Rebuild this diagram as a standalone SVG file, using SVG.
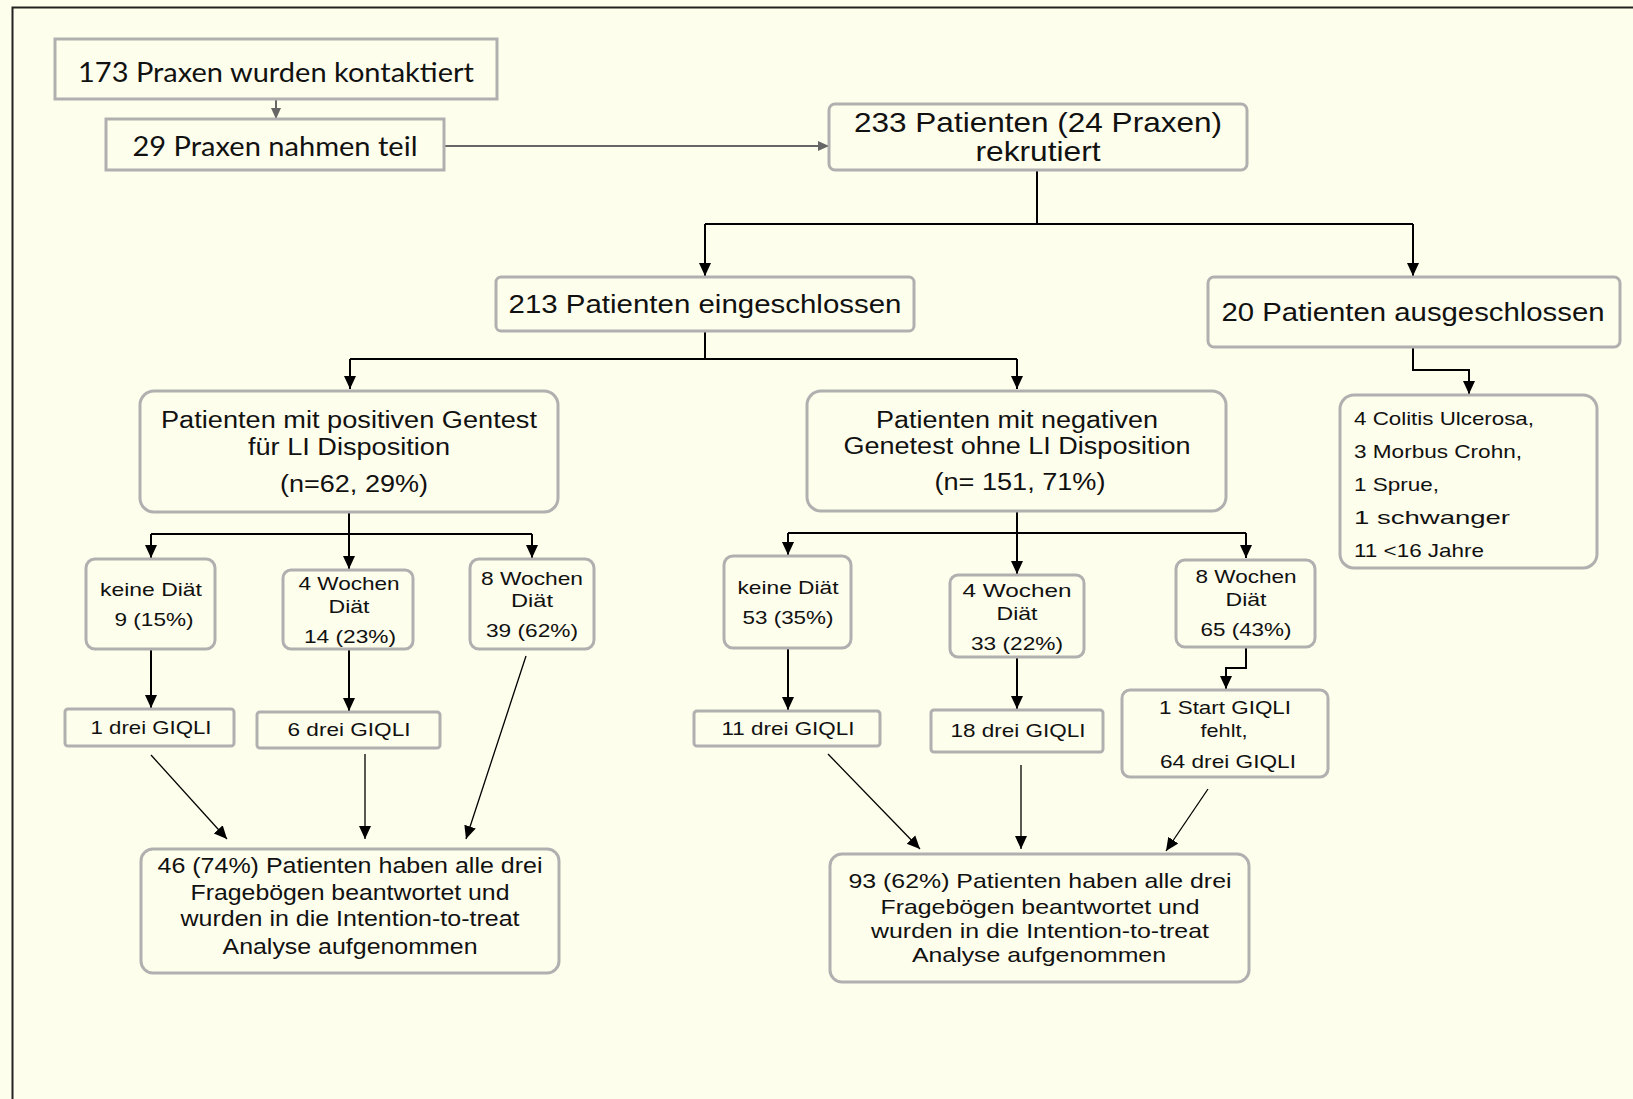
<svg xmlns="http://www.w3.org/2000/svg" width="1633" height="1099" viewBox="0 0 1633 1099">
<defs>
<style>
.bx{fill:#fefeec;stroke:#b0b0b0;stroke-width:3}
.t{font-family:"Liberation Sans",Arial,sans-serif;fill:#111;text-anchor:middle}
.c{font-family:Lato,"Liberation Sans",sans-serif;fill:#111;text-anchor:middle;font-size:26px}
.l{font-family:"Liberation Sans",Arial,sans-serif;fill:#111;font-size:19px}
.k{fill:none;stroke:#000;stroke-width:2}
.d{fill:none;stroke:#000;stroke-width:1.3}
.g{fill:none;stroke:#666;stroke-width:2}
</style>
<marker id="ah" markerUnits="userSpaceOnUse" markerWidth="14" markerHeight="14" viewBox="0 0 14 14" refX="13" refY="7" orient="auto"><path d="M0,1 L13,7 L0,13 Z" fill="#000"/></marker>
<marker id="ag" markerUnits="userSpaceOnUse" markerWidth="12" markerHeight="12" viewBox="0 0 12 12" refX="11" refY="6" orient="auto"><path d="M0,1 L11,6 L0,11 Z" fill="#666"/></marker>
</defs>
<rect width="1633" height="1099" fill="#fefeec"/>
<path d="M12.5,1099 V7.5 H1633" fill="none" stroke="#222" stroke-width="2"/>

<g id="connectors">
<path class="g" d="M276,99 V119" marker-end="url(#ag)"/>
<path class="g" d="M444,146 H829" marker-end="url(#ag)"/>
<path class="k" d="M1037,170 V224"/>
<path class="k" d="M705,224 H1413"/>
<path class="k" d="M705,224 V276" marker-end="url(#ah)"/>
<path class="k" d="M1413,224 V276" marker-end="url(#ah)"/>
<path class="k" d="M1413,347 V370 H1469 V394" marker-end="url(#ah)"/>
<path class="k" d="M705,331 V359"/>
<path class="k" d="M350,359 H1017"/>
<path class="k" d="M1017,359 V389" marker-end="url(#ah)"/>
<path class="k" d="M350,359 V389" marker-end="url(#ah)"/>
<path class="k" d="M349,512 V534"/>
<path class="k" d="M151,534 H532"/>
<path class="k" d="M151,534 V558" marker-end="url(#ah)"/>
<path class="k" d="M349,534 V569" marker-end="url(#ah)"/>
<path class="k" d="M532,534 V558" marker-end="url(#ah)"/>
<path class="k" d="M151,649 V708" marker-end="url(#ah)"/>
<path class="k" d="M349,649 V711" marker-end="url(#ah)"/>
<path class="d" d="M151,755 L227,839" marker-end="url(#ah)"/>
<path class="d" d="M365,754 V839" marker-end="url(#ah)"/>
<path class="d" d="M526,656 L466,839" marker-end="url(#ah)"/>
<path class="k" d="M1017,511 V533"/>
<path class="k" d="M788,533 H1246"/>
<path class="k" d="M788,533 V555" marker-end="url(#ah)"/>
<path class="k" d="M1017,533 V574" marker-end="url(#ah)"/>
<path class="k" d="M1246,533 V558" marker-end="url(#ah)"/>
<path class="k" d="M788,648 V710" marker-end="url(#ah)"/>
<path class="k" d="M1017,657 V709" marker-end="url(#ah)"/>
<path class="k" d="M1246,647 V668 H1226 V689" marker-end="url(#ah)"/>
<path class="d" d="M828,754 L920,849" marker-end="url(#ah)"/>
<path class="d" d="M1021,765 V849" marker-end="url(#ah)"/>
<path class="d" d="M1208,789 L1166,851" marker-end="url(#ah)"/>
</g>

<g id="n1"><rect class="bx" x="55" y="39" width="442" height="60"/>
<text class="c" x="276" y="82" textLength="396" lengthAdjust="spacingAndGlyphs">173 Praxen wurden kontaktiert</text></g>
<g id="n2"><rect class="bx" x="106" y="119" width="338" height="51"/>
<text class="c" x="275" y="156" textLength="285" lengthAdjust="spacingAndGlyphs">29 Praxen nahmen teil</text></g>
<g id="n3"><rect class="bx" x="829" y="104" width="418" height="66" rx="6"/>
<text class="t" font-size="28" x="1038" y="132" textLength="368" lengthAdjust="spacingAndGlyphs">233 Patienten (24 Praxen)</text>
<text class="t" font-size="28" x="1038" y="161" textLength="125" lengthAdjust="spacingAndGlyphs">rekrutiert</text></g>
<g id="n4"><rect class="bx" x="496" y="277" width="418" height="54" rx="5"/>
<text class="t" font-size="25" x="705" y="313" textLength="393" lengthAdjust="spacingAndGlyphs">213 Patienten eingeschlossen</text></g>
<g id="n5"><rect class="bx" x="1208" y="277" width="412" height="70" rx="6"/>
<text class="t" font-size="25" x="1413" y="321" textLength="383" lengthAdjust="spacingAndGlyphs">20 Patienten ausgeschlossen</text></g>
<g id="n6"><rect class="bx" x="1340" y="395" width="257" height="173" rx="14"/>
<text class="l" x="1354" y="425" textLength="180" lengthAdjust="spacingAndGlyphs">4 Colitis Ulcerosa,</text>
<text class="l" x="1354" y="458" textLength="168" lengthAdjust="spacingAndGlyphs">3 Morbus Crohn,</text>
<text class="l" x="1354" y="491" textLength="85" lengthAdjust="spacingAndGlyphs">1 Sprue,</text>
<text class="l" x="1354" y="524" textLength="156" lengthAdjust="spacingAndGlyphs">1 schwanger</text>
<text class="l" x="1354" y="557" textLength="130" lengthAdjust="spacingAndGlyphs">11 &lt;16 Jahre</text></g>
<g id="n7"><rect class="bx" x="140" y="391" width="418" height="121" rx="14"/>
<text class="t" font-size="23" x="349" y="428" textLength="376" lengthAdjust="spacingAndGlyphs">Patienten mit positiven Gentest</text>
<text class="t" font-size="23" x="349" y="455" textLength="202" lengthAdjust="spacingAndGlyphs">für LI Disposition</text>
<text class="t" font-size="23" x="354" y="492" textLength="148" lengthAdjust="spacingAndGlyphs">(n=62, 29%)</text></g>
<g id="n8"><rect class="bx" x="807" y="391" width="419" height="120" rx="14"/>
<text class="t" font-size="23" x="1017" y="428" textLength="282" lengthAdjust="spacingAndGlyphs">Patienten mit negativen</text>
<text class="t" font-size="23" x="1017" y="454" textLength="347" lengthAdjust="spacingAndGlyphs">Genetest ohne LI Disposition</text>
<text class="t" font-size="23" x="1020" y="490" textLength="171" lengthAdjust="spacingAndGlyphs">(n= 151, 71%)</text></g>
<g id="n9"><rect class="bx" x="86" y="559" width="129" height="90" rx="9"/>
<text class="t" font-size="19" x="151" y="596" textLength="102" lengthAdjust="spacingAndGlyphs">keine Diät</text>
<text class="t" font-size="19" x="154" y="626" textLength="79" lengthAdjust="spacingAndGlyphs">9 (15%)</text></g>
<g id="n10"><rect class="bx" x="283" y="570" width="130" height="79" rx="8"/>
<text class="t" font-size="19" x="349" y="590" textLength="101" lengthAdjust="spacingAndGlyphs">4 Wochen</text>
<text class="t" font-size="19" x="349" y="613" textLength="41" lengthAdjust="spacingAndGlyphs">Diät</text>
<text class="t" font-size="19" x="350" y="643" textLength="92" lengthAdjust="spacingAndGlyphs">14 (23%)</text></g>
<g id="n11"><rect class="bx" x="470" y="559" width="124" height="90" rx="9"/>
<text class="t" font-size="19" x="532" y="585" textLength="102" lengthAdjust="spacingAndGlyphs">8 Wochen</text>
<text class="t" font-size="19" x="532" y="607" textLength="42" lengthAdjust="spacingAndGlyphs">Diät</text>
<text class="t" font-size="19" x="532" y="637" textLength="92" lengthAdjust="spacingAndGlyphs">39 (62%)</text></g>
<g id="n12"><rect class="bx" x="65" y="709" width="169" height="37" rx="3"/>
<text class="t" font-size="19" x="151" y="734" textLength="121" lengthAdjust="spacingAndGlyphs">1 drei GIQLI</text></g>
<g id="n13"><rect class="bx" x="257" y="712" width="183" height="36" rx="3"/>
<text class="t" font-size="19" x="349" y="736" textLength="123" lengthAdjust="spacingAndGlyphs">6 drei GIQLI</text></g>
<g id="n14"><rect class="bx" x="141" y="849" width="418" height="124" rx="12"/>
<text class="t" font-size="22" x="350" y="873" textLength="385" lengthAdjust="spacingAndGlyphs">46 (74%) Patienten haben alle drei</text>
<text class="t" font-size="22" x="350" y="900" textLength="319" lengthAdjust="spacingAndGlyphs">Fragebögen beantwortet und</text>
<text class="t" font-size="22" x="350" y="926" textLength="339" lengthAdjust="spacingAndGlyphs">wurden in die Intention-to-treat</text>
<text class="t" font-size="22" x="350" y="954" textLength="255" lengthAdjust="spacingAndGlyphs">Analyse aufgenommen</text></g>
<g id="n15"><rect class="bx" x="724" y="556" width="127" height="92" rx="9"/>
<text class="t" font-size="19" x="788" y="594" textLength="101" lengthAdjust="spacingAndGlyphs">keine Diät</text>
<text class="t" font-size="19" x="788" y="624" textLength="91" lengthAdjust="spacingAndGlyphs">53 (35%)</text></g>
<g id="n16"><rect class="bx" x="950" y="575" width="134" height="82" rx="8"/>
<text class="t" font-size="19" x="1017" y="597" textLength="109" lengthAdjust="spacingAndGlyphs">4  Wochen</text>
<text class="t" font-size="19" x="1017" y="620" textLength="41" lengthAdjust="spacingAndGlyphs">Diät</text>
<text class="t" font-size="19" x="1017" y="650" textLength="92" lengthAdjust="spacingAndGlyphs">33 (22%)</text></g>
<g id="n17"><rect class="bx" x="1176" y="560" width="139" height="87" rx="9"/>
<text class="t" font-size="19" x="1246" y="583" textLength="101" lengthAdjust="spacingAndGlyphs">8 Wochen</text>
<text class="t" font-size="19" x="1246" y="606" textLength="41" lengthAdjust="spacingAndGlyphs">Diät</text>
<text class="t" font-size="19" x="1246" y="636" textLength="91" lengthAdjust="spacingAndGlyphs">65 (43%)</text></g>
<g id="n18"><rect class="bx" x="694" y="711" width="186" height="35" rx="3"/>
<text class="t" font-size="19" x="788" y="735" textLength="133" lengthAdjust="spacingAndGlyphs">11 drei GIQLI</text></g>
<g id="n19"><rect class="bx" x="931" y="710" width="172" height="42" rx="3"/>
<text class="t" font-size="19" x="1018" y="737" textLength="135" lengthAdjust="spacingAndGlyphs">18 drei GIQLI</text></g>
<g id="n20"><rect class="bx" x="1122" y="690" width="206" height="87" rx="8"/>
<text class="t" font-size="19" x="1225" y="714" textLength="132" lengthAdjust="spacingAndGlyphs">1 Start GIQLI</text>
<text class="t" font-size="19" x="1224" y="737" textLength="47" lengthAdjust="spacingAndGlyphs">fehlt,</text>
<text class="t" font-size="19" x="1228" y="768" textLength="136" lengthAdjust="spacingAndGlyphs">64 drei GIQLI</text></g>
<g id="n21"><rect class="bx" x="830" y="854" width="419" height="128" rx="12"/>
<text class="t" font-size="21" x="1040" y="888" textLength="383" lengthAdjust="spacingAndGlyphs">93 (62%) Patienten haben alle drei</text>
<text class="t" font-size="21" x="1040" y="914" textLength="319" lengthAdjust="spacingAndGlyphs">Fragebögen beantwortet und</text>
<text class="t" font-size="21" x="1040" y="938" textLength="338" lengthAdjust="spacingAndGlyphs">wurden in die Intention-to-treat</text>
<text class="t" font-size="21" x="1039" y="962" textLength="254" lengthAdjust="spacingAndGlyphs">Analyse aufgenommen</text></g>
</svg>
